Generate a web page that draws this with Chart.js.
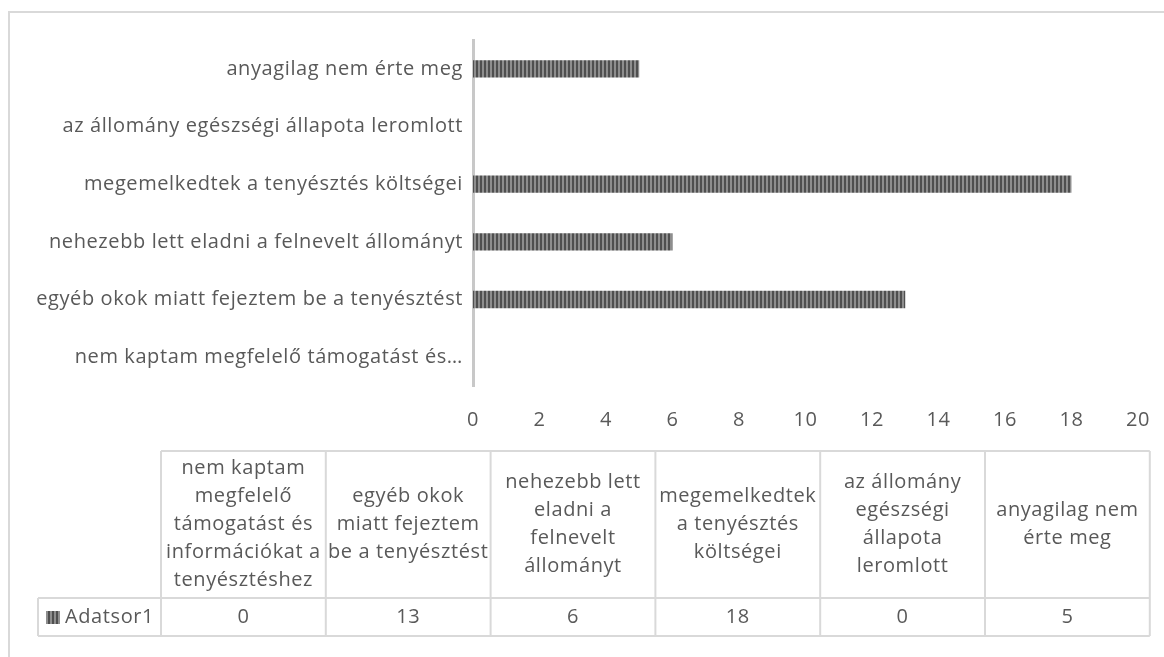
<!DOCTYPE html>
<html lang="hu">
<head>
<meta charset="UTF-8">
<title>Adatsor1</title>
<style>
    body { margin: 0; background: #fff; }
    #frame {
        position: absolute; left: 8px; top: 11px;
        width: 1200px; height: 700px;
        border: 2px solid #d9d9d9;
        box-sizing: border-box;
    }
    #chart { position: absolute; left: 0; top: 0; }
</style>
</head>
<body>
<div id="frame"></div>
<canvas id="chart" width="1164" height="657"></canvas>
<script src="https://cdn.jsdelivr.net/npm/chart.js"></script>
<script>
// adatok (Excel sorrend: alulról felfelé)
const categories = [
    "nem kaptam megfelelő támogatást és információkat a tenyésztéshez",
    "egyéb okok miatt fejeztem be a tenyésztést",
    "nehezebb lett eladni a felnevelt állományt",
    "megemelkedtek a tenyésztés költségei",
    "az állomány egészségi állapota leromlott",
    "anyagilag nem érte meg"
];
const values = [0, 13, 6, 18, 0, 5];
const seriesName = "Adatsor1";
const xMin = 0, xMax = 20, xStep = 2;

const textColor = "#595959";
const fontFamily = "'Open Sans', sans-serif";
const fontSize = 20;
const spacing = "0.6px";

// csíkos minta a sávokhoz
function stripes() {
    const c = document.createElement("canvas");
    c.width = 4; c.height = 4;
    const g = c.getContext("2d");
    g.fillStyle = "#8e8e8e"; g.fillRect(0, 0, 4, 4);
    g.fillStyle = "#4f4f4f"; g.fillRect(0, 0, 2, 4);
    return g.createPattern(c, "repeat");
}
const pattern = stripes();

const measureCtx = document.createElement("canvas").getContext("2d");
measureCtx.font = fontSize + "px " + fontFamily;
measureCtx.letterSpacing = spacing;
function shorten(label, maxW) {
    if (measureCtx.measureText(label).width <= maxW) return label;
    const words = label.split(" ");
    while (words.length > 1) {
        words.pop();
        const s = words.join(" ") + "…";
        if (measureCtx.measureText(s).width <= maxW) return s;
    }
    return label;
}

function wrap(ctx, text, maxW) {
    const words = text.split(" ");
    const lines = [];
    let cur = "";
    words.forEach(w => {
        const t = cur ? cur + " " + w : w;
        if (ctx.measureText(t).width > maxW && cur) { lines.push(cur); cur = w; }
        else cur = t;
    });
    if (cur) lines.push(cur);
    return lines;
}

const letterSpacing = {
    id: "letterSpacing",
    beforeLayout(chart) { chart.ctx.letterSpacing = spacing; },
    beforeDraw(chart) { chart.ctx.letterSpacing = spacing; }
};

// adattábla a diagram alatt
const dataTable = {
    id: "dataTable",
    afterDraw(chart) {
        const ctx = chart.ctx;
        const left = 161, colW = 164.8, legendLeft = 38;
        const top = 451, mid = 598, bottom = 636;
        const right = left + colW * categories.length;
        ctx.save();
        ctx.strokeStyle = "#d9d9d9";
        ctx.lineWidth = 2;
        ctx.beginPath();
        ctx.moveTo(left, top); ctx.lineTo(right, top);
        ctx.moveTo(legendLeft, mid); ctx.lineTo(right, mid);
        ctx.moveTo(legendLeft, bottom); ctx.lineTo(right, bottom);
        ctx.moveTo(legendLeft, mid); ctx.lineTo(legendLeft, bottom);
        for (let i = 0; i <= categories.length; i++) {
            ctx.moveTo(left + i * colW, top); ctx.lineTo(left + i * colW, bottom);
        }
        ctx.stroke();

        ctx.font = fontSize + "px " + fontFamily;
        ctx.letterSpacing = spacing;
        ctx.fillStyle = textColor;
        ctx.textAlign = "center";
        ctx.textBaseline = "middle";
        const lh = 28;
        categories.forEach((c, i) => {
            const cx = left + colW * (i + 0.5);
            const lines = wrap(ctx, c, colW - 1);
            const y0 = (top + mid) / 2 - (lines.length - 1) * lh / 2;
            lines.forEach((l, j) => ctx.fillText(l, cx, y0 + j * lh));
            ctx.fillText(String(values[i]), cx, (mid + bottom) / 2);
        });
        ctx.fillStyle = pattern;
        ctx.fillRect(46, 611, 14, 13);
        ctx.fillStyle = textColor;
        ctx.textAlign = "left";
        ctx.fillText(seriesName, 65, (mid + bottom) / 2);
        ctx.restore();
    }
};

new Chart(document.getElementById("chart"), {
    type: "bar",
    data: {
        labels: categories,
        datasets: [{
            label: seriesName,
            data: values,
            backgroundColor: pattern,
            barPercentage: 0.3,
            categoryPercentage: 1.0
        }]
    },
    options: {
        indexAxis: "y",
        responsive: false,
        animation: false,
        layout: { padding: { top: 40, right: 19, bottom: 0, left: 0 } },
        plugins: { legend: { display: false }, tooltip: { enabled: false } },
        scales: {
            y: {
                reverse: true,
                grid: { display: false },
                border: { color: "#c8c8c8", width: 3 },
                ticks: {
                    color: textColor,
                    font: { family: fontFamily, size: fontSize },
                    padding: 2,
                    callback: function (v) { return shorten(this.getLabelForValue(v), 450); }
                },
                afterFit: s => { s.width = 473; }
            },
            x: {
                min: xMin, max: xMax,
                grid: { display: false },
                border: { display: false },
                ticks: {
                    stepSize: xStep,
                    color: textColor,
                    font: { family: fontFamily, size: fontSize },
                    padding: 14
                },
                afterFit: s => { s.height = 271; }
            }
        }
    },
    plugins: [letterSpacing, dataTable]
});
</script>
</body>
</html>
